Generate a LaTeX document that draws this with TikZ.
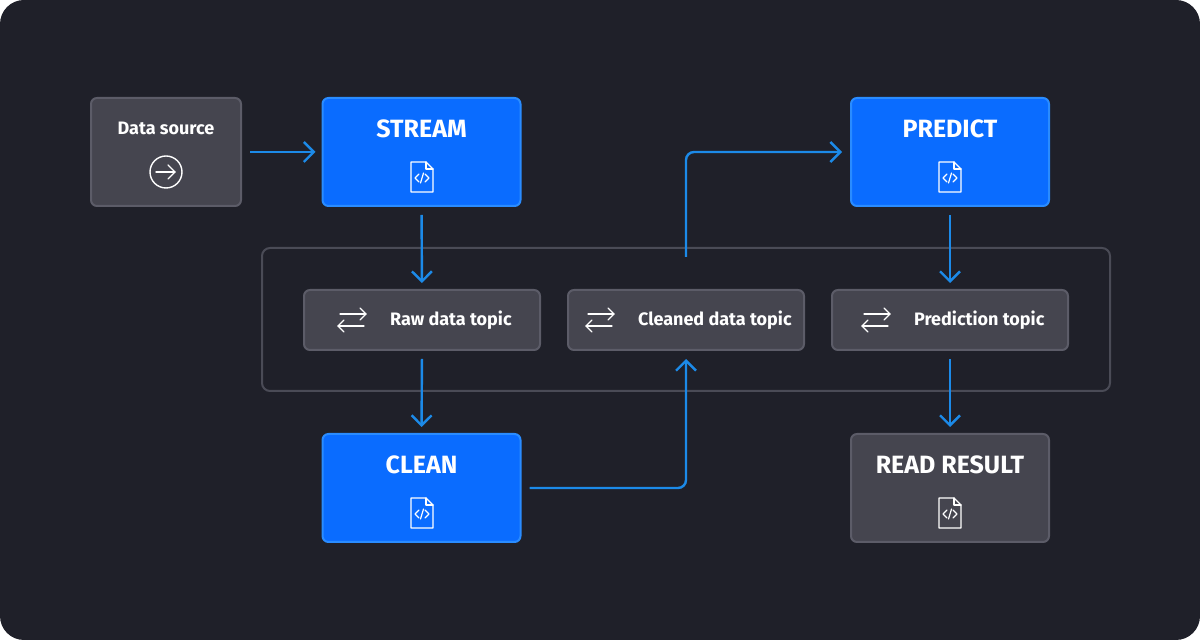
\documentclass[tikz,border=0pt]{standalone}
\usepackage{fontspec}
\setmainfont{Fira Sans}
\usetikzlibrary{arrows.meta,positioning}
\definecolor{bg}{HTML}{1F2029}
\definecolor{outer}{HTML}{FFFFFF}
\definecolor{bluef}{HTML}{0A6CFF}
\definecolor{blueb}{HTML}{2A8CFF}
\definecolor{grayf}{HTML}{45454F}
\definecolor{grayb}{HTML}{5C5C68}
\definecolor{arr}{HTML}{1C8AE8}
\definecolor{grp}{HTML}{4A4B56}
\tikzset{
  box/.style={rounded corners=3pt,line width=1pt,minimum width=99pt,minimum height=54pt,inner sep=0pt},
  blue/.style={box,fill=bluef,draw=blueb},
  gray/.style={box,fill=grayf,draw=grayb},
  topic/.style={rounded corners=3pt,line width=1pt,fill=grayf,draw=grayb,minimum width=118pt,minimum height=30pt,inner sep=0pt},
  title/.style={text=white,font=\fontsize{12.5}{14}\selectfont\bfseries},
  small/.style={text=white,font=\fontsize{9}{11}\selectfont\bfseries},
  conn/.style={arr,line width=1.2pt,-{Straight Barb[length=5pt,width=10pt,line width=1.2pt]},rounded corners=4pt},
  icon/.style={white,line width=0.6pt,line join=round,line cap=round}
}
\newcommand{\fileicon}[2]{%
  \draw[icon] (#1-11,#2-15) -- (#1+4,#2-15) -- (#1+11,#2-8) -- (#1+11,#2+15) -- (#1-11,#2+15) -- cycle;
  \draw[icon] (#1+4,#2-15) -- (#1+4,#2-8) -- (#1+11,#2-8);
  \draw[icon] (#1-3,#2-3) -- (#1-7,#2+1) -- (#1-3,#2+5);
  \draw[icon] (#1+3,#2-3) -- (#1+7,#2+1) -- (#1+3,#2+5);
  \draw[icon] (#1+1.5,#2-4) -- (#1-1.5,#2+6);
}
\newcommand{\swapicon}[2]{%
  \draw[icon] (#1-12,#2-6) -- (#1+14,#2-6);
  \draw[icon] (#1+8,#2-12) -- (#1+14,#2-6) -- (#1+8,#2);
  \draw[icon] (#1+12,#2+6) -- (#1-14,#2+6);
  \draw[icon] (#1-8,#2) -- (#1-14,#2+6) -- (#1-8,#2+12);
}
\begin{document}
\begin{tikzpicture}[x=0.5pt,y=-0.5pt]
\useasboundingbox (0,0) rectangle (1200,640);
\fill[outer] (0,0) rectangle (1200,640);
\fill[bg,rounded corners=12pt] (0,0) rectangle (1200,640);
\draw[grp,line width=1pt,rounded corners=4pt] (262,248) rectangle (1110,391);

\node[gray,minimum width=75pt] (ds) at (166,152) {};
\node[blue] (stream) at (421.5,152) {};
\node[blue] (predict) at (950,152) {};
\node[blue] (clean) at (421.5,488) {};
\node[gray] (read) at (950,488) {};
\node[topic] (raw) at (422,320) {};
\node[topic] (cleaned) at (686,320) {};
\node[topic] (pred) at (950,320) {};

\node[small] at (166,128) {Data source};
\draw[icon,line width=0.7pt] (166,172) circle (8pt);
\draw[icon,line width=0.7pt] (156,172) -- (175,172);
\draw[icon,line width=0.7pt] (168,165) -- (175,172) -- (168,179);

\node[title] at (421.5,129) {STREAM};
\node[title] at (950,129) {PREDICT};
\node[title] at (421.5,465) {CLEAN};
\node[title] at (950,465) {READ RESULT};
\fileicon{422}{177}
\fileicon{950}{177}
\fileicon{422}{513}
\fileicon{950}{513}

\swapicon{352}{320}
\swapicon{600}{320}
\swapicon{876}{320}
\node[small,anchor=west] at (383,320) {Raw data topic};
\node[small,anchor=west] at (631,320) {Cleaned data topic};
\node[small,anchor=west] at (907,320) {Prediction topic};

\draw[conn,shorten <=4pt,shorten >=3pt] (ds.east) -- (stream.west);
\draw[conn,shorten <=4pt,shorten >=3pt] (stream.south) -- (raw.north);
\draw[conn,shorten <=4pt,shorten >=3pt] (raw.south) -- (clean.north);
\draw[conn,shorten <=4pt,shorten >=3pt] (predict.south) -- (pred.north);
\draw[conn,shorten <=4pt,shorten >=3pt] (pred.south) -- (read.north);
\draw[conn,shorten <=4pt,shorten >=4pt] (clean.east) -| (cleaned.south);
\draw[conn,shorten <=16pt,shorten >=4pt] (cleaned.north) |- (predict.west);
\end{tikzpicture}
\end{document}
